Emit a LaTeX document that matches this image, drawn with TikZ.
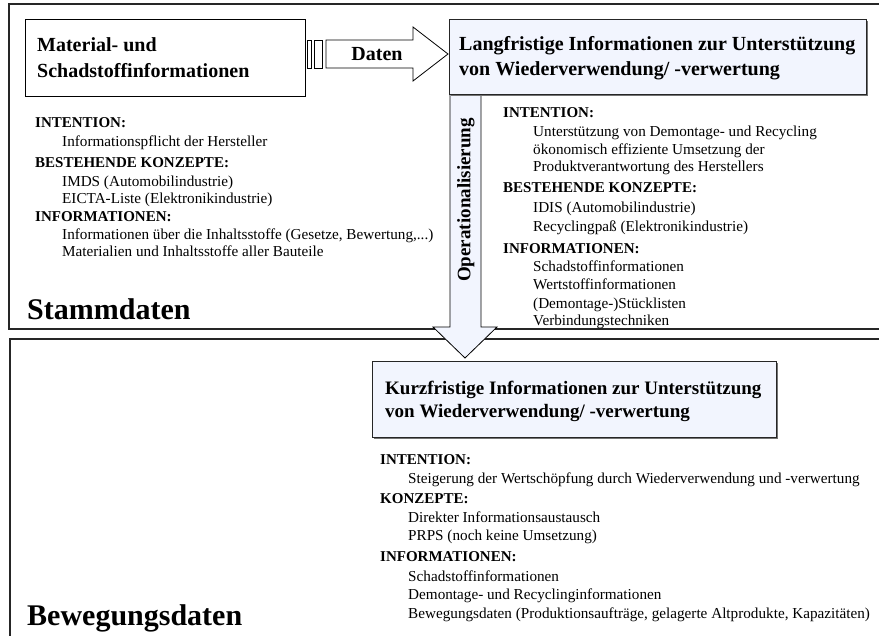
\documentclass[tikz,border=0pt]{standalone}
\usepackage{fontspec}
\setmainfont{Liberation Serif}
\definecolor{boxblue}{RGB}{242,245,254}
\begin{document}
\begin{tikzpicture}[x=1pt,y=-1pt,
  frame/.style={draw=black!85, line width=1.4pt},
  plainbox/.style={draw=black, line width=0.8pt, fill=white, inner sep=0pt, anchor=north west},
  infobox/.style={draw=black!85, line width=0.8pt, fill=boxblue, inner sep=0pt, anchor=north west},
  boxshadow/.style={fill=black!55, draw=none, inner sep=0pt, anchor=north west},
  blockarrow/.style={draw=black, line width=0.8pt, line join=miter},
  hd/.style={font=\fontsize{20}{24}\selectfont\bfseries, anchor=base west, inner sep=0pt},
  hdb/.style={font=\fontsize{19}{23}\selectfont\bfseries, anchor=base west, inner sep=0pt},
  sec/.style={font=\fontsize{15}{18}\selectfont\bfseries, anchor=base west, inner sep=0pt},
  itm/.style={font=\fontsize{15.2}{18}\selectfont, anchor=base west, inner sep=0pt},
  big/.style={font=\fontsize{30}{36}\selectfont\bfseries, anchor=base west, inner sep=0pt}
]
\useasboundingbox (0,0) rectangle (879,636);
\clip (0,0) rectangle (879,636);

% section frames
\draw[frame] (890,4) -- (9,4) -- (9,329) -- (890,329);
\draw[frame] (890,339) -- (10,339) -- (10,650);

% Material box
\node[plainbox, minimum width=280pt, minimum height=77pt] (mat) at (25,19) {};
\node[hd] (mat1) at (37,52) {Material- und};
\node[hd] (mat2) at (37,78) {Schadstoffinformationen};

% Daten arrow (striped tail)
\draw[blockarrow, fill=white] (307,40) rectangle (311,68);
\draw[blockarrow, fill=white] (314,40) rectangle (322,68);
\draw[blockarrow, fill=white] (326,40) -- (413,40) -- (413,27) -- (448,54) -- (413,81) -- (413,68) -- (326,68) -- cycle;
\node[font=\fontsize{20}{24}\selectfont\bfseries, inner sep=0pt] (daten) at (377,54) {Daten};

% Operationalisierung arrow
\draw[blockarrow, fill=boxblue] (450,85) -- (481,85) -- (481,327) -- (497,327) -- (465,358) -- (433,327) -- (450,327) -- cycle;
\node[font=\fontsize{19}{23}\selectfont\bfseries, inner sep=0pt, rotate=90] (oper) at (466,200) {Operationalisierung};

% Langfristige box
\node[boxshadow, minimum width=417pt, minimum height=75pt] (langS) at (451,21) {};
\node[infobox, minimum width=417pt, minimum height=75pt] (lang) at (449,19) {};
\node[hd] (lang1) at (459,51) {Langfristige Informationen zur Unterstützung};
\node[hd] (lang2) at (459,76) {von Wiederverwendung/ -verwertung};

% Kurzfristige box
\node[boxshadow, minimum width=404pt, minimum height=76pt] (kurzS) at (374,363) {};
\node[infobox, minimum width=404pt, minimum height=76pt] (kurz) at (372,361) {};
\node[hdb] (kurz1) at (385,395) {Kurzfristige Informationen zur Unterstützung};
\node[hdb] (kurz2) at (385,418) {von Wiederverwendung/ -verwertung};

% left column
\node[sec] (l1) at (35,128) {INTENTION:};
\node[itm] (l2) at (62,147) {Informationspflicht der Hersteller};
\node[sec] (l3) at (35,168) {BESTEHENDE KONZEPTE:};
\node[itm] (l4) at (62,187) {IMDS (Automobilindustrie)};
\node[itm] (l5) at (62,204) {EICTA-Liste (Elektronikindustrie)};
\node[sec] (l6) at (35,222) {INFORMATIONEN:};
\node[itm] (l7) at (62,240) {Informationen über die Inhaltsstoffe (Gesetze, Bewertung,...)};
\node[itm] (l8) at (62,257) {Materialien und Inhaltsstoffe aller Bauteile};
\node[big] (stamm) at (27,320) {Stammdaten};

% right column
\node[sec] (r1) at (503,117.5) {INTENTION:};
\node[itm] (r2) at (533,136.5) {Unterstützung von Demontage- und Recycling};
\node[itm] (r3) at (533,154.5) {ökonomisch effiziente Umsetzung der};
\node[itm] (r4) at (533,171.5) {Produktverantwortung des Herstellers};
\node[sec] (r5) at (503,193) {BESTEHENDE KONZEPTE:};
\node[itm] (r6) at (533,212.5) {IDIS (Automobilindustrie)};
\node[itm] (r7) at (533,231.5) {Recyclingpaß (Elektronikindustrie)};
\node[sec] (r8) at (503,254) {INFORMATIONEN:};
\node[itm] (r9) at (533,271.5) {Schadstoffinformationen};
\node[itm] (r10) at (533,289.5) {Wertstoffinformationen};
\node[itm] (r11) at (533,308.5) {(Demontage-)Stücklisten};
\node[itm] (r12) at (533,326) {Verbindungstechniken};

% bottom column
\node[sec] (b1) at (380,464.5) {INTENTION:};
\node[itm] (b2) at (408,483.5) {Steigerung der Wertschöpfung durch Wiederverwendung und -verwertung};
\node[sec] (b3) at (380,503.5) {KONZEPTE:};
\node[itm] (b4) at (408,522.5) {Direkter Informationsaustausch};
\node[itm] (b5) at (408,540.5) {PRPS (noch keine Umsetzung)};
\node[sec] (b6) at (380,561.5) {INFORMATIONEN:};
\node[itm] (b7) at (408,581.5) {Schadstoffinformationen};
\node[itm] (b8) at (408,599.5) {Demontage- und Recyclinginformationen};
\node[itm] (b9) at (408,618.5) {Bewegungsdaten (Produktionsaufträge, gelagerte Altprodukte, Kapazitäten)};
\node[big] (beweg) at (27,625) {Bewegungsdaten};
\end{tikzpicture}
\end{document}
